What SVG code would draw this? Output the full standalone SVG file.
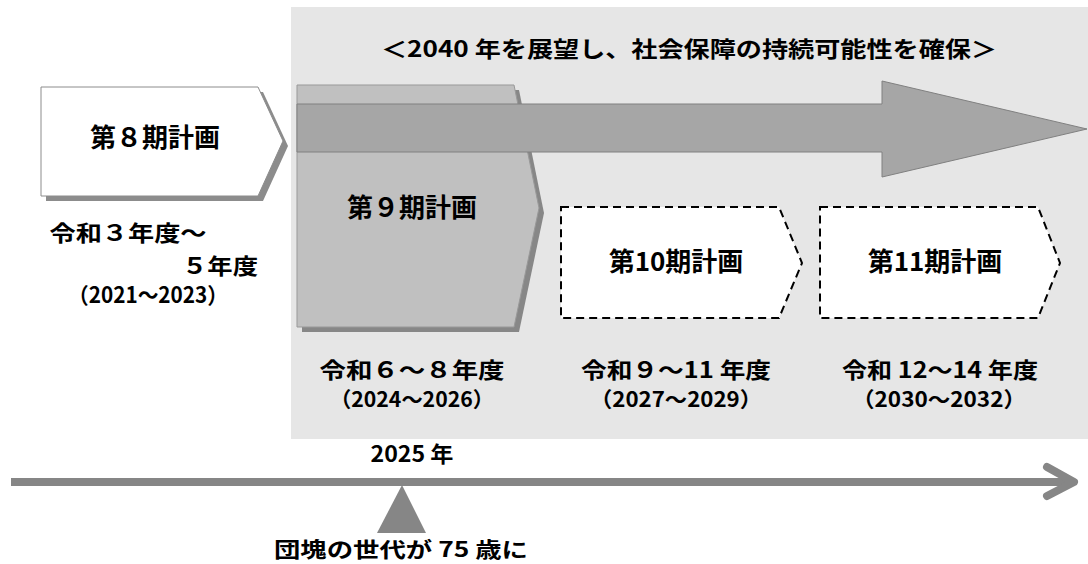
<svg xmlns="http://www.w3.org/2000/svg" width="1088" height="564" viewBox="0 0 1088 564">
<style>
.t{font-family:"Noto Sans CJK JP","Noto Sans CJK SC",sans-serif;font-weight:700;fill:#000;}
.plan{font-size:26px;text-anchor:middle;}
.lbl{font-size:22px;text-anchor:middle;}
.sm{font-size:21px;}
.dash{fill:#fff;stroke:#000;stroke-width:2;stroke-dasharray:8 5;}
</style>
<rect id="bg" x="291" y="7" width="797" height="432" fill="#e6e6e6"/>
<g id="title">
<text class="t lbl" x="689" y="57" textLength="616" lengthAdjust="spacingAndGlyphs">＜2040 年を展望し、社会保障の持続可能性を確保＞</text>
</g>
<g id="plan8">
<polygon points="46,92 263,92 288,146 263,201 46,201" fill="#8c8c8c"/>
<polygon points="41,87 258,87 283,141 258,196 41,196" fill="#fff" stroke="#8c8c8c" stroke-width="1"/>
<text class="t plan" x="155" y="147">第８期計画</text>
<text class="t lbl" x="128" y="241" textLength="157" lengthAdjust="spacingAndGlyphs">令和３年度～</text>
<text class="t lbl" x="220" y="274" textLength="76" lengthAdjust="spacingAndGlyphs">５年度</text>
<text class="t lbl" x="148" y="303" textLength="160" lengthAdjust="spacingAndGlyphs">（2021～2023）</text>
</g>
<g id="plan9">
<polygon points="302,90 519,90 544,213 519,332 302,332" fill="#878787"/>
<polygon points="297,85 514,85 539,208 514,327 297,327" fill="#c0c0c0" stroke="#999" stroke-width="1"/>
</g>
<g id="big-arrow">
<polygon points="297,104 882,104 882,81 1087,129 882,177 882,152 297,152" fill="#a6a6a6" stroke="#808080" stroke-width="1"/>
</g>
<g id="plan9-label">
<text class="t plan" x="412" y="217">第９期計画</text>
<text class="t lbl" x="412" y="378" textLength="185" lengthAdjust="spacingAndGlyphs">令和６～８年度</text>
<text class="t lbl sm" x="412" y="407" textLength="164" lengthAdjust="spacingAndGlyphs">（2024～2026）</text>
</g>
<g id="plan10">
<polygon class="dash" points="561,207 779,207 802,263 779,318 561,318"/>
<text class="t plan" x="676" y="271">第10期計画</text>
<text class="t lbl" x="676" y="378" textLength="190" lengthAdjust="spacingAndGlyphs">令和９～11 年度</text>
<text class="t lbl sm" x="676" y="407" textLength="172" lengthAdjust="spacingAndGlyphs">（2027～2029）</text>
</g>
<g id="plan11">
<polygon class="dash" points="820,207 1038,207 1060,263 1038,318 820,318"/>
<text class="t plan" x="935" y="271">第11期計画</text>
<text class="t lbl" x="940" y="378" textLength="196" lengthAdjust="spacingAndGlyphs">令和 12～14 年度</text>
<text class="t lbl sm" x="939" y="407" textLength="174" lengthAdjust="spacingAndGlyphs">（2030～2032）</text>
</g>
<g id="connectors">
<line x1="11" y1="482" x2="1072" y2="482" stroke="#868686" stroke-width="8"/>
<polyline points="1047,467 1074,482 1047,496" fill="none" stroke="#868686" stroke-width="8" stroke-linecap="round" stroke-linejoin="round"/>
<polygon points="402,485 377,533 426,533" fill="#868686"/>
</g>
<g id="milestone">
<text class="t lbl" x="412" y="462" textLength="83" lengthAdjust="spacingAndGlyphs">2025 年</text>
<text class="t lbl sm" x="401" y="557" textLength="254" lengthAdjust="spacingAndGlyphs">団塊の世代が 75 歳に</text>
</g>
</svg>
